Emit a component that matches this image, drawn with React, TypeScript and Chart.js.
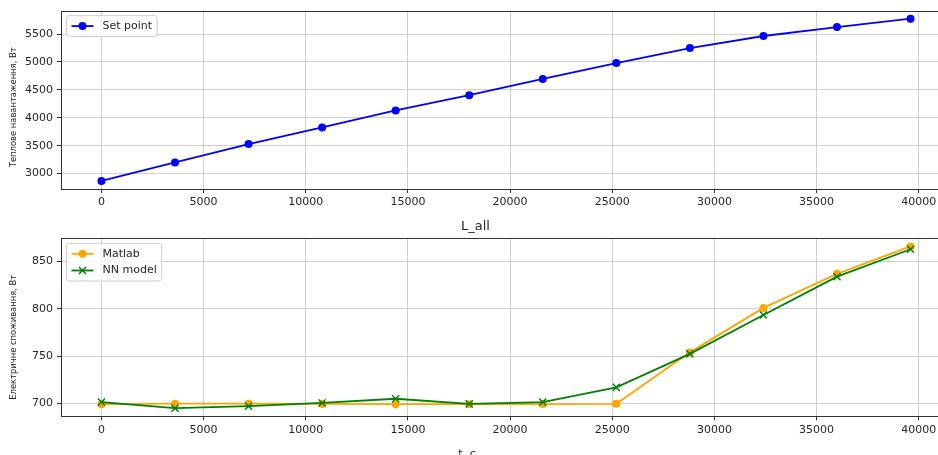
import React, { useEffect, useRef } from 'react';
import { Chart, registerables } from 'chart.js';

Chart.register(...registerables);

// ---------- data ----------
const TIME_S = [0, 3600, 7200, 10800, 14400, 18000, 21600, 25200, 28800, 32400, 36000, 39600];
const SET_POINT = [2870, 3200, 3530, 3828, 4132, 4405, 4696, 4980, 5250, 5465, 5625, 5775];
const MATLAB = [699.3, 699.8, 699.8, 699.5, 699.3, 699.3, 699.4, 699.6, 754, 801, 837, 866];
const NN_MODEL = [701.4, 695.0, 697.2, 700.6, 705.0, 699.6, 701.4, 717.0, 752.4, 793.5, 834, 863];

const X_TICKS = [0, 5000, 10000, 15000, 20000, 25000, 30000, 35000, 40000];
const TOP_Y_TICKS = [3000, 3500, 4000, 4500, 5000, 5500];
const BOTTOM_Y_TICKS = [700, 750, 800, 850];

const TOP_Y_LABEL = 'Теплове навантаження, Вт';
const BOTTOM_Y_LABEL = 'Електричне споживання, Вт';
const BOTTOM_TITLE = 'L_all';
const X_LABEL = 't, c';

// ---------- style ----------
const FONT = 'DejaVu Sans';
const TEXT = '#262626';
const GRID = '#cfcfcf';
const SPINE = '#333333';
const CANVAS_W = 951;

Chart.defaults.font.family = FONT;

function margins(vals: number[]) {
  const mn = Math.min(...vals);
  const mx = Math.max(...vals);
  const pad = (mx - mn) * 0.05;
  return { min: mn - pad, max: mx + pad };
}

const xr = margins(TIME_S);

const mplPlugin = {
  id: 'mpl',
  afterDraw(chart: any, _args: any, opts: any) {
    const { ctx, chartArea: a } = chart;
    ctx.save();
    // spines
    ctx.strokeStyle = SPINE;
    ctx.lineWidth = 1;
    ctx.strokeRect(Math.round(a.left) + 0.5, Math.round(a.top) + 0.5, Math.round(a.right - a.left), Math.round(a.bottom - a.top));
    // legend
    const ds = chart.data.datasets;
    ctx.font = `11px "${FONT}"`;
    let tw = 0;
    ds.forEach((d: any) => { tw = Math.max(tw, ctx.measureText(d.label).width); });
    const bx = a.left + 5.5;
    const by = a.top + 5;
    const row = 16.7;
    const bw = 36 + tw + 5;
    const bh = 21 + (ds.length - 1) * row;
    ctx.beginPath();
    if (ctx.roundRect) ctx.roundRect(bx, by, bw, bh, 3); else ctx.rect(bx, by, bw, bh);
    ctx.fillStyle = 'rgba(255,255,255,0.8)';
    ctx.fill();
    ctx.strokeStyle = '#cccccc';
    ctx.lineWidth = 1;
    ctx.stroke();
    ds.forEach((d: any, i: number) => {
      const cy = by + 10.5 + i * row;
      ctx.strokeStyle = d.borderColor;
      ctx.lineWidth = d.borderWidth;
      ctx.beginPath();
      ctx.moveTo(bx + 5, cy);
      ctx.lineTo(bx + 27, cy);
      ctx.stroke();
      const mx = bx + 16;
      if (d.pointStyle === 'crossRot') {
        const h = d.pointRadius * Math.SQRT1_2;
        ctx.lineWidth = d.pointBorderWidth;
        ctx.beginPath();
        ctx.moveTo(mx - h, cy - h); ctx.lineTo(mx + h, cy + h);
        ctx.moveTo(mx - h, cy + h); ctx.lineTo(mx + h, cy - h);
        ctx.stroke();
      } else {
        ctx.fillStyle = d.borderColor;
        ctx.beginPath();
        ctx.arc(mx, cy, d.pointRadius, 0, Math.PI * 2);
        ctx.fill();
      }
      ctx.fillStyle = TEXT;
      ctx.textBaseline = 'middle';
      ctx.textAlign = 'left';
      ctx.fillText(d.label, bx + 36, cy);
    });
    // y axis label (matplotlib-like position)
    if (opts && opts.yLabel) {
      ctx.save();
      ctx.font = `8.4px "${FONT}"`;
      ctx.fillStyle = TEXT;
      ctx.textAlign = 'center';
      ctx.textBaseline = 'middle';
      ctx.translate(opts.yLabel.x, (a.top + a.bottom) / 2 + opts.yLabel.dy);
      ctx.rotate(-Math.PI / 2);
      ctx.fillText(opts.yLabel.text, 0, 0);
      ctx.restore();
    }
    // free x label
    if (opts && opts.xLabel) {
      ctx.font = `11px "${FONT}"`;
      ctx.fillStyle = TEXT;
      ctx.textAlign = 'center';
      ctx.textBaseline = 'top';
      ctx.fillText(opts.xLabel.text, opts.xLabel.x, opts.xLabel.y);
    }
    ctx.restore();
  },
};

function makeScales(yTicks: number[], yVals: number[], xAxisHeight: number) {
  const yr = margins(yVals);
  const tickFont = { family: FONT, size: 11 };
  return {
    x: {
      type: 'linear',
      min: xr.min,
      max: xr.max,
      bounds: 'data',
      afterBuildTicks: (s: any) => { s.ticks = X_TICKS.map((v) => ({ value: v })); },
      afterFit: (s: any) => { s.height = xAxisHeight; },
      ticks: { callback: (v: any) => String(v), autoSkip: false, maxRotation: 0, padding: 3, color: TEXT, font: tickFont },
      grid: { color: GRID, lineWidth: 1, tickLength: 4, tickColor: SPINE, tickWidth: 1 },
      border: { display: false },
    },
    y: {
      type: 'linear',
      min: yr.min,
      max: yr.max,
      bounds: 'data',
      afterBuildTicks: (s: any) => { s.ticks = yTicks.map((v) => ({ value: v })); },
      afterFit: (s: any) => { s.width = 61; },
      ticks: { callback: (v: any) => String(v), autoSkip: false, padding: 4, color: TEXT, font: tickFont },
      grid: { color: GRID, lineWidth: 1, tickLength: 4, tickColor: SPINE, tickWidth: 1 },
      border: { display: false },
    },
  };
}

function pts(vals: number[]) {
  return TIME_S.map((x, i) => ({ x, y: vals[i] }));
}

export default function App() {
  const topRef = useRef<HTMLCanvasElement>(null);
  const botRef = useRef<HTMLCanvasElement>(null);

  useEffect(() => {
    const c1 = new Chart(topRef.current as HTMLCanvasElement, {
      type: 'line',
      data: {
        datasets: [
          {
            label: 'Set point',
            data: pts(SET_POINT),
            borderColor: '#0000ff',
            backgroundColor: '#0000ff',
            borderWidth: 1.8,
            pointStyle: 'circle',
            pointRadius: 4,
            pointBorderWidth: 0,
            pointBackgroundColor: '#0000ff',
            tension: 0,
          },
        ],
      },
      options: {
        responsive: false,
        animation: false,
        devicePixelRatio: 1,
        layout: { autoPadding: false, padding: { top: 10, left: 0, right: 0, bottom: 0 } },
        plugins: {
          legend: { display: false },
          tooltip: { enabled: false },
          mpl: { yLabel: { text: TOP_Y_LABEL, x: 14, dy: 7.5 } },
        },
        scales: makeScales(TOP_Y_TICKS, SET_POINT, 26),
      } as any,
      plugins: [mplPlugin],
    });

    const c2 = new Chart(botRef.current as HTMLCanvasElement, {
      type: 'line',
      data: {
        datasets: [
          {
            label: 'Matlab',
            data: pts(MATLAB),
            borderColor: '#ffa500',
            backgroundColor: '#ffa500',
            borderWidth: 1.8,
            pointStyle: 'circle',
            pointRadius: 4,
            pointBorderWidth: 0,
            pointBackgroundColor: '#ffa500',
            tension: 0,
            order: 2,
          },
          {
            label: 'NN model',
            data: pts(NN_MODEL),
            borderColor: '#008000',
            backgroundColor: '#008000',
            borderWidth: 1.8,
            pointStyle: 'crossRot',
            pointRadius: 5,
            pointBorderWidth: 1.4,
            pointBorderColor: '#008000',
            tension: 0,
            order: 1,
          },
        ],
      },
      options: {
        responsive: false,
        animation: false,
        devicePixelRatio: 1,
        layout: { autoPadding: false, padding: { top: 0, left: 0, right: 0, bottom: 0 } },
        plugins: {
          legend: { display: false },
          tooltip: { enabled: false },
          title: {
            display: true,
            text: BOTTOM_TITLE,
            color: TEXT,
            font: { family: FONT, size: 13, weight: 'normal' },
            padding: { top: 3.9, bottom: 3.8 },
          },
          mpl: {
            yLabel: { text: BOTTOM_Y_LABEL, x: 14, dy: 10 },
            xLabel: { text: X_LABEL, x: 467, y: 233.5 },
          },
        },
        scales: makeScales(BOTTOM_Y_TICKS, [...MATLAB, ...NN_MODEL], 43.7),
      } as any,
      plugins: [mplPlugin],
    });

    return () => {
      c1.destroy();
      c2.destroy();
    };
  }, []);

  return (
    <div style={{ position: 'fixed', left: 0, top: 0, width: 938, height: 455, overflow: 'hidden', background: '#ffffff' }}>
      <canvas ref={topRef} width={CANVAS_W} height={215} style={{ position: 'absolute', left: 0, top: 0, width: CANVAS_W, height: 215 }} />
      <canvas ref={botRef} width={CANVAS_W} height={245} style={{ position: 'absolute', left: 0, top: 215, width: CANVAS_W, height: 245 }} />
    </div>
  );
}
